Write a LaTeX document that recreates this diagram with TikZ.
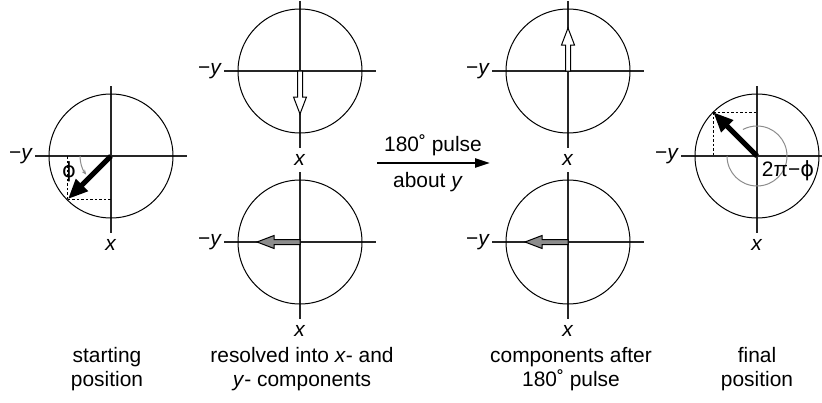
\documentclass[tikz,border=0pt]{standalone}
\usepackage{fontspec}
\setmainfont{Liberation Sans}
\newfontfamily\greekfont{DejaVu Sans}
\usetikzlibrary{arrows.meta,positioning,calc}

\begin{document}
\begin{tikzpicture}[
  x=1bp, y=1bp,
  font=\fontsize{21}{24.5}\selectfont,
  rim/.style={line width=1bp},
  axis/.style={line width=1.1bp, black!85},
  guide/.style={line width=1bp, dash pattern=on 2.5bp off 2bp},
  angarc/.style={black!45, line width=1bp},
  spin/.style={line width=5bp, -{Triangle[length=20bp,width=16bp]}},
  pulse/.style={line width=2.6bp, -{Triangle[length=15bp,width=9bp]}},
  lbl/.style={inner sep=0pt},
  caption/.style={align=center, inner sep=0pt},
  pics/blockarrow/.style={code={
    \draw[line width=1bp, fill=#1] (0,-2.5) -- (26,-2.5) -- (26,-6.5) -- (43,0)
      -- (26,6.5) -- (26,2.5) -- (0,2.5) -- cycle;}}
]
\useasboundingbox (0,0) rectangle (822,402);

% dial centres
\coordinate (c1) at (111,246);
\coordinate (c2) at (300,331);
\coordinate (c3) at (300,160);
\coordinate (c4) at (568,331);
\coordinate (c5) at (568,160);
\coordinate (c6) at (757,246);

\foreach \c in {c1,c2,c3,c4,c5,c6} {
  \draw[axis] ($(\c)+(-76,0)$) -- ($(\c)+(76,0)$);
  \draw[axis] ($(\c)+(0,70)$) -- ($(\c)+(0,-77)$);
  \draw[rim] (\c) circle[radius=62];
  \node[lbl, anchor=east] (\c-negy) at ($(\c)+(-78,0)$) {−\textit{y}};
  \node[lbl] (\c-x) at ($(\c)+(0,-89)$) {\textit{x}};
}

% starting position
\coordinate (t1) at ($(c1)+(225:61)$);
\draw[guide] (t1) -- (t1 |- c1);
\draw[guide] (t1) -- (t1 -| c1);
\draw[spin] (c1) -- (t1);
\draw[angarc, -{Stealth[length=5bp,width=4bp]}] ($(c1)+(180:31)$)
  arc[start angle=180, end angle=217, radius=31];
\node[lbl] (phi) at (69,230) {\greekfont ϕ};

% resolved components
\pic[rotate=-90] at (c2) {blockarrow=white};
\pic[rotate=180] at (c3) {blockarrow=black!45};

% the pulse
\coordinate (p0) at (377,239);
\coordinate (p1) at (490,239);
\draw[pulse] (p0) -- (p1);
\node[lbl] (pulse-top) at (433,257) {180˚ pulse};
\node[lbl] (pulse-bot) at (428,220) {about \textit{y}};

% after the pulse
\pic[rotate=90] at (c4) {blockarrow=white};
\pic[rotate=180] at (c5) {blockarrow=black!45};

% final position
\coordinate (t6) at ($(c6)+(135:62)$);
\draw[angarc] ($(c6)+(180:30)$) arc[start angle=180, end angle=478, radius=30];
\draw[guide] (t6) -- (t6 |- c6);
\draw[guide] (t6) -- (t6 -| c6);
\draw[spin] (c6) -- (t6);
\node[lbl] (ang) at (788,231) {2π−{\greekfont ϕ}};

% captions
\node[caption] (cap1) at (107,33) {starting\\position};
\node[caption] (cap2) at (302,33) {resolved into \textit{x}- and\\\textit{y}- components};
\node[caption] (cap3) at (571,33) {components after\\180˚ pulse};
\node[caption] (cap6) at (757,33) {final\\position};
\end{tikzpicture}
\end{document}
